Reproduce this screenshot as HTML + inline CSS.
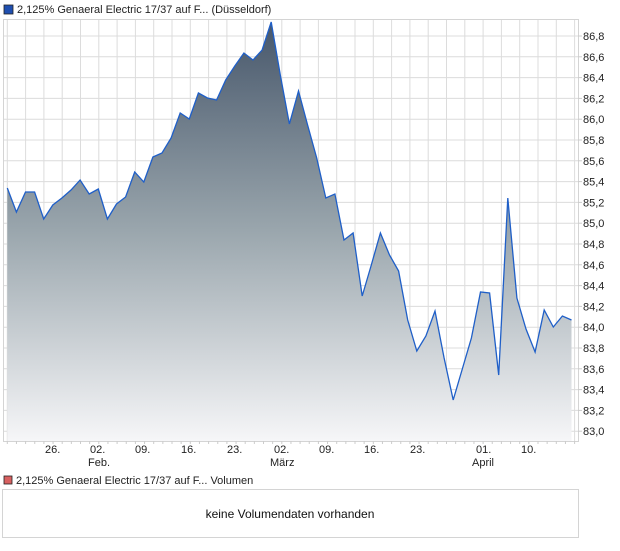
<!DOCTYPE html>
<html><head><meta charset="utf-8"><style>
body{margin:0;background:#fff;font-family:"Liberation Sans",sans-serif;}
svg text{font-family:"Liberation Sans",sans-serif;font-size:11px;fill:#222;}
</style></head><body>
<svg width="620" height="546" xmlns="http://www.w3.org/2000/svg">
<defs>
<linearGradient id="g" x1="0" y1="20" x2="0" y2="441" gradientUnits="userSpaceOnUse">
<stop offset="0" stop-color="#46566a"/>
<stop offset="0.5" stop-color="#9aa6ad"/>
<stop offset="1" stop-color="#f6f6f8"/>
</linearGradient>
</defs>
<rect x="4" y="5" width="9" height="9" fill="#1f4fb0" stroke="#222" stroke-width="0.8"/>
<text x="17" y="13">2,125% Genaeral Electric 17/37 auf F... (Düsseldorf)</text>
<g stroke="#dcdcdc" stroke-width="1" id="grid"></g>
<polygon id="area" fill="url(#g)"/>
<polyline id="line" fill="none" stroke="#1f5fc8" stroke-width="1.3"/>
<rect x="3.5" y="19.5" width="575" height="422" fill="none" stroke="#d4d4d4"/>
<g id="yl"></g>
<g id="xt" stroke="#ccc"></g>
<text x="45" y="453">26.</text><text x="90" y="453">02.</text><text x="88" y="466">Feb.</text>
<text x="135" y="453">09.</text><text x="181" y="453">16.</text><text x="227" y="453">23.</text>
<text x="274" y="453">02.</text><text x="270" y="466">März</text>
<text x="319" y="453">09.</text><text x="364" y="453">16.</text><text x="410" y="453">23.</text>
<text x="476" y="453">01.</text><text x="472" y="466">April</text><text x="521" y="453">10.</text>
<rect x="4" y="476" width="8" height="8" fill="#d86060" stroke="#222" stroke-width="0.8"/>
<text x="16" y="484">2,125% Genaeral Electric 17/37 auf F... Volumen</text>
<rect x="2.5" y="489.5" width="576" height="48" fill="#fff" stroke="#d4d4d4"/>
<text x="290" y="518" text-anchor="middle" style="font-size:12px;fill:#111">keine Volumendaten vorhanden</text>
</svg>
<script>
var ns="http://www.w3.org/2000/svg";
var g=document.getElementById('grid'),s='';
for(var x=7.3;x<578;x+=18.3){s+='<line x1="'+x+'" y1="20" x2="'+x+'" y2="441"/>';}
for(var i=0;i<20;i++){var y=36+i*20.8;if(y<441)s+='<line x1="4" y1="'+y+'" x2="578" y2="'+y+'"/>';}
g.innerHTML=s;
var yl='';for(var i=0;i<20;i++){var y=36+i*20.8;var v=(86.8-i*0.2).toFixed(1).replace('.',',');yl+='<line x1="578" y1="'+y+'" x2="582" y2="'+y+'" stroke="#ccc"/><text x="583" y="'+(y+4)+'">'+v+'</text>';}
document.getElementById('yl').innerHTML=yl;
var xt='';for(var x=7.3;x<578;x+=9.15){xt+='<line x1="'+x+'" y1="441" x2="'+x+'" y2="444"/>';}
document.getElementById('xt').innerHTML=xt;
var ys=[188,212,192,192,219,205,198,190,180,194,189,219,204,197,172,182,157,153,138,113,119,93,98,100,80,66,53,60,50,22,75,124,91,125,158,198,194,240,233,296,265,233,255,271,320,351,336,311,358,400,369,338,292,293,375,198,298,329,352,310,327,316,320];
var pts=ys.map(function(y,i){return (7.3+i*9.1).toFixed(1)+','+y;});
document.getElementById('line').setAttribute('points',pts.join(' '));
var last=(7.3+(ys.length-1)*9.1).toFixed(1);
document.getElementById('area').setAttribute('points',pts.join(' ')+' '+last+',441 7.3,441');
</script>
</body></html>
